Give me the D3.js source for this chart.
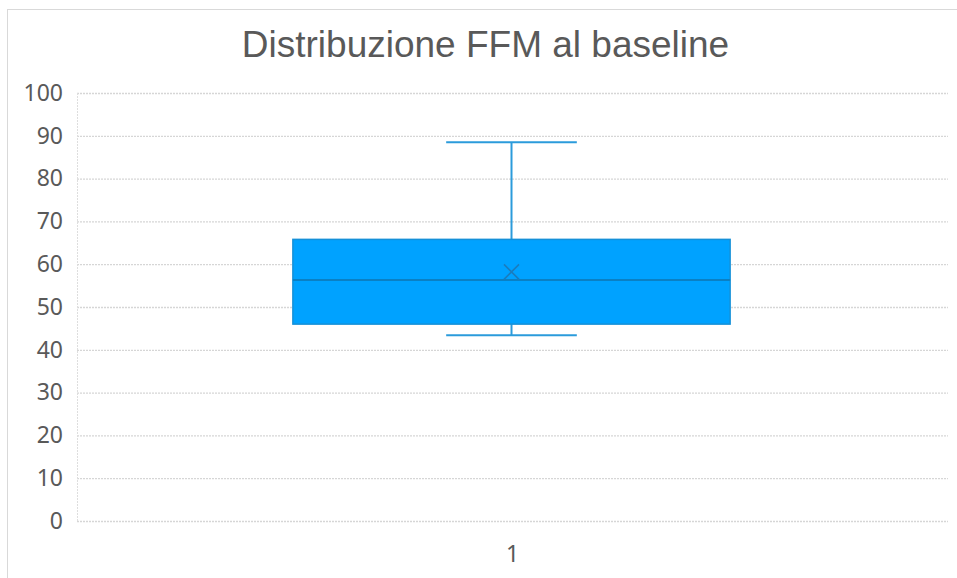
<!DOCTYPE html>
<html>
<head>
<meta charset="utf-8">
<script src="https://cdn.jsdelivr.net/npm/d3@7"></script>
<style>
  html, body { margin: 0; padding: 0; background: #fff; }
  svg { display: block; }
</style>
</head>
<body>
<svg id="chart" width="957" height="578"></svg>
<script>
// ---- data ----
const title = "Distribuzione FFM al baseline";
const categories = ["1"];
const q1Values = [46.0];
const medianValues = [56.3];
const q3Values = [65.8];
const meanValues = [58.2];
const minValues = [43.4];
const maxValues = [88.5];
const yTicks = [0, 10, 20, 30, 40, 50, 60, 70, 80, 90, 100];

const svg = d3.select("#chart");
const W = 957, H = 578;
const margin = { left: 77, right: 9, top: 93, bottom: 57 };

// chart border
svg.append("rect")
  .attr("x", 7.5).attr("y", 9.5)
  .attr("width", W + 10).attr("height", H + 10)
  .attr("fill", "#fff").attr("stroke", "#d9d9d9").attr("stroke-width", 1);

const x = d3.scaleBand().domain(categories).range([margin.left, W - margin.right]).padding(0);
const y = d3.scaleLinear().domain([0, 100]).range([H - margin.bottom, margin.top]);

// title
svg.append("text")
  .attr("x", 485.5).attr("y", 57)
  .attr("text-anchor", "middle")
  .attr("font-family", "'Liberation Sans', Arial, sans-serif")
  .attr("font-size", 37)
  .attr("fill", "#595959")
  .text(title);

// gridlines
svg.append("g").selectAll("line").data(yTicks).join("line")
  .attr("x1", margin.left).attr("x2", W - margin.right)
  .attr("y1", d => y(d) + 0.5).attr("y2", d => y(d) + 0.5)
  .attr("stroke", "#d6d6d6").attr("stroke-width", 1.3)
  .attr("stroke-dasharray", "2,1");

// light vertical axis line
svg.append("line")
  .attr("x1", margin.left + 0.5).attr("x2", margin.left + 0.5)
  .attr("y1", y(100)).attr("y2", y(0))
  .attr("stroke", "#dedede").attr("stroke-width", 1)
  .attr("stroke-dasharray", "2,1");

// y axis labels
const yAxis = d3.axisLeft(y).tickValues(yTicks).tickSize(0).tickPadding(14);
const gy = svg.append("g").attr("transform", `translate(${margin.left},0)`).call(yAxis);
gy.select(".domain").remove();
gy.selectAll("text")
  .attr("font-family", "'Noto Sans', 'Open Sans', sans-serif")
  .attr("font-size", 23)
  .attr("fill", "#595959");

// x axis label
const xAxis = d3.axisBottom(x).tickSize(0).tickPadding(25);
const gx = svg.append("g").attr("transform", `translate(0,${y(0)})`).call(xAxis);
gx.select(".domain").remove();
gx.selectAll("text")
  .attr("font-family", "'Noto Sans', 'Open Sans', sans-serif")
  .attr("font-size", 23)
  .attr("fill", "#595959");

// box plot
const data = categories.map((c, i) => ({
  c, q1: q1Values[i], med: medianValues[i], q3: q3Values[i],
  mean: meanValues[i], min: minValues[i], max: maxValues[i]
}));
const boxW = x.bandwidth() * 0.502;
const capW = x.bandwidth() * 0.15;
const g = svg.append("g");
data.forEach(d => {
  const cx = x(d.c) + x.bandwidth() / 2 - 1;
  const wc = "#2b9bdb";
  // upper whisker
  g.append("line").attr("x1", cx).attr("x2", cx)
    .attr("y1", y(d.max)).attr("y2", y(d.q3))
    .attr("stroke", wc).attr("stroke-width", 2);
  g.append("line").attr("x1", cx - capW / 2).attr("x2", cx + capW / 2)
    .attr("y1", y(d.max)).attr("y2", y(d.max))
    .attr("stroke", wc).attr("stroke-width", 2);
  // lower whisker
  g.append("line").attr("x1", cx).attr("x2", cx)
    .attr("y1", y(d.q1)).attr("y2", y(d.min))
    .attr("stroke", wc).attr("stroke-width", 2);
  g.append("line").attr("x1", cx - capW / 2).attr("x2", cx + capW / 2)
    .attr("y1", y(d.min)).attr("y2", y(d.min))
    .attr("stroke", wc).attr("stroke-width", 2);
  // box
  g.append("rect")
    .attr("x", cx - boxW / 2).attr("y", y(d.q3))
    .attr("width", boxW).attr("height", y(d.q1) - y(d.q3))
    .attr("fill", "#00a2ff").attr("stroke", "#1590d8").attr("stroke-width", 1.5);
  // median
  g.append("line").attr("x1", cx - boxW / 2).attr("x2", cx + boxW / 2)
    .attr("y1", y(d.med)).attr("y2", y(d.med))
    .attr("stroke", "#0a80c4").attr("stroke-width", 2);
  // mean marker
  const s = 7.5, my = y(d.mean);
  g.append("path")
    .attr("d", `M${cx - s},${my - s}L${cx + s},${my + s}M${cx - s},${my + s}L${cx + s},${my - s}`)
    .attr("stroke", "#1a7cbd").attr("stroke-width", 1.6).attr("fill", "none");
});
</script>
</body>
</html>
